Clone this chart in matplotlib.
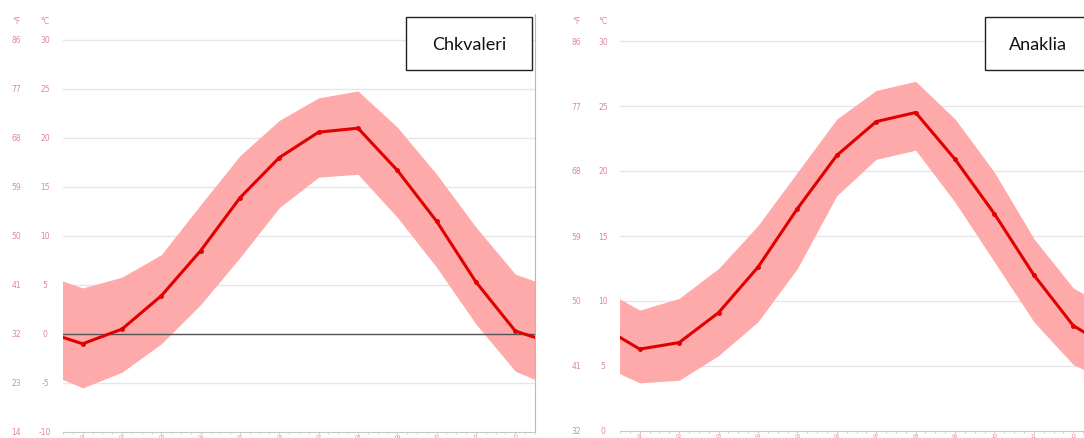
import matplotlib
matplotlib.use("Agg")
import matplotlib.pyplot as plt
from matplotlib.patches import Rectangle
from matplotlib.ticker import MultipleLocator
from matplotlib.transforms import blended_transform_factory

# ── Data (°C) ----------------------------------------------------------------
months = list(range(1, 13))
month_labels = ["01", "02", "03", "04", "05", "06", "07", "08", "09", "10", "11", "12"]

chk_mean = [-1.0, 0.5, 3.9, 8.5, 13.9, 18.0, 20.6, 21.0, 16.7, 11.5, 5.3, 0.3]
chk_high = [4.7, 5.8, 8.1, 13.2, 18.2, 21.8, 24.1, 24.8, 21.1, 16.3, 10.9, 6.1]
chk_low = [-5.5, -3.9, -1.0, 3.0, 7.8, 12.9, 16.0, 16.3, 11.9, 6.8, 1.0, -3.8]

ana_mean = [6.3, 6.8, 9.1, 12.6, 17.1, 21.2, 23.8, 24.5, 20.9, 16.7, 12.0, 8.1]
ana_high = [9.3, 10.2, 12.5, 15.8, 19.9, 24.0, 26.2, 26.9, 24.0, 19.9, 14.8, 11.0]
ana_low = [3.7, 3.9, 5.8, 8.4, 12.5, 18.1, 20.9, 21.6, 17.6, 13.0, 8.4, 5.1]

chk_ticks = [-10, -5, 0, 5, 10, 15, 20, 25, 30]
ana_ticks = [0, 5, 10, 15, 20, 25, 30]

W, H = 1084, 439
LABEL_COL = "#e08898"
BAND = "#ffaaaa"
LINE = "#e00000"


def wrap(vals):
    # climate year wraps round: December before January, January after December
    return [vals[-1]] + vals + [vals[0]]


def panel(fig, rect, ymin, ymax, ticks, mean, high, low, fx, cx, zero_line, right_spine):
    ax = fig.add_axes(rect)
    xs = [0] + months + [13]
    ax.fill_between(xs, wrap(low), wrap(high), color=BAND, lw=0, zorder=2)
    ax.plot(xs, wrap(mean), color=LINE, lw=2.2, marker="o", ms=2.5, zorder=4)
    ax.set_xlim(0.5, 12.5)
    ax.set_ylim(ymin, ymax)
    for t in ticks[1:]:
        ax.axhline(t, color="#e6e6e6", lw=1, zorder=1)
    if zero_line:
        ax.axhline(0, color="#555555", lw=1, zorder=3)

    for s in ["top", "left"]:
        ax.spines[s].set_visible(False)
    ax.spines["right"].set_visible(right_spine)
    ax.spines["right"].set_color("#b8b8b8")
    ax.spines["bottom"].set_color("#c8c8c8")
    ax.spines["bottom"].set_linestyle((0, (3, 1)))
    ax.set_yticks([])
    ax.set_xticks(months)
    ax.set_xticklabels(month_labels, fontsize=3.5, color=LABEL_COL)
    ax.xaxis.set_minor_locator(MultipleLocator(0.25))
    ax.tick_params(axis="x", which="both", length=1.5, color="#c8c8c8", pad=0.3)

    tr = blended_transform_factory(fig.transFigure, ax.transData)
    for t in ticks:
        ax.text(fx / W, t, f"{round(t * 9 / 5 + 32)}", transform=tr, fontsize=5.5,
                color=LABEL_COL, ha="center", va="center", clip_on=False)
        ax.text(cx / W, t, f"{t}", transform=tr, fontsize=5.5,
                color=LABEL_COL, ha="center", va="center", clip_on=False)
    fig.text(fx / W, 1 - 22 / H, "°F", fontsize=5.5, color=LABEL_COL, ha="center", va="center")
    fig.text(cx / W, 1 - 22 / H, "°C", fontsize=5.5, color=LABEL_COL, ha="center", va="center")
    return ax


def name_box(fig, x0, x1, y0, y1, text, tx):
    fig.patches.append(Rectangle((x0 / W, 1 - y1 / H), (x1 - x0) / W, (y1 - y0) / H,
                                 transform=fig.transFigure, facecolor="white",
                                 edgecolor="#222222", lw=1, zorder=10))
    fig.text(tx / W, 1 - (y0 + y1) / 2 / H, text, fontsize=13, family="Lato",
             ha="center", va="center", color="#111111", zorder=11)


fig = plt.figure(figsize=(W / 100, H / 100), dpi=100)

# left panel: -10 at y=434 px, 30 at y=42 px
px_c = (434 - 42) / 40
panel(fig, [63 / W, 6 / H, (535 - 63) / W, (433 - 15) / H],
      -10, -10 + (433 - 15) / px_c, chk_ticks, chk_mean, chk_high, chk_low,
      16, 45, True, True)

# right panel: 0 at y=432 px, 30 at y=42 px, runs past the right edge
px_a = (432 - 42) / 30
panel(fig, [620 / W, 7 / H, 473 / W, (432 - 15) / H],
      0, (432 - 15) / px_a, ana_ticks, ana_mean, ana_high, ana_low,
      576, 603, False, False)

name_box(fig, 406, 532, 18, 71, "Chkvaleri", 469)
name_box(fig, 985, 1092, 18, 71, "Anaklia", 1038)

fig.savefig("out.png", dpi=100)
